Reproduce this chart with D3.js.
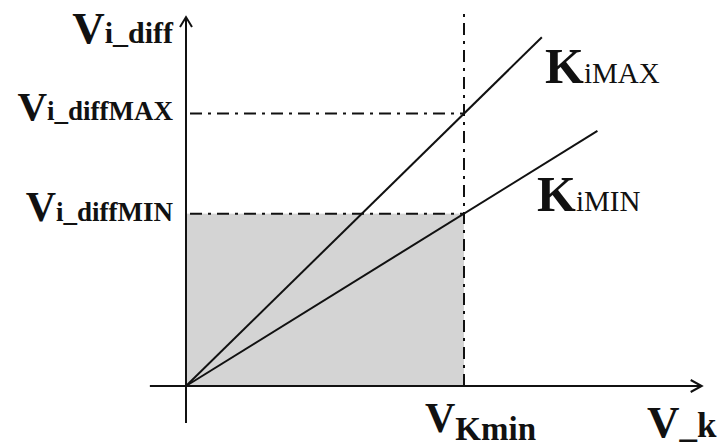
<!DOCTYPE html>
<html>
<head>
<meta charset="utf-8">
<script src="https://cdn.jsdelivr.net/npm/d3@7"></script>
<style>
  html, body { margin: 0; padding: 0; background: #fff; }
  text { font-family: "Liberation Serif", "DejaVu Serif", serif; font-weight: bold; fill: #111; }
</style>
</head>
<body>
<div id="chart"></div>
<script>
// data (arbitrary units, V_Kmin = 1)
const slopeNames = ["MAX", "MIN"];
const slopes = [0.98, 0.62];
const lineEnds = [1.28, 1.48];   // x value where each line stops
const vkMin = 1;
const xAxisRange = [-0.13, 1.855];
const yAxisRange = [-0.133, 1.327];
const vLineTop = 1.36;

const width = 719, height = 447;

const svg = d3.select("#chart")
  .append("svg")
  .attr("width", width)
  .attr("height", height);

// same pixel size per unit on both axes
const x = d3.scaleLinear().domain([0, 1]).range([186, 464]);
const y = d3.scaleLinear().domain([0, 1]).range([386, 108]);

const vMax = slopes[0] * vkMin;
const vMin = slopes[1] * vkMin;

// shaded region
svg.append("rect")
  .attr("x", x(0))
  .attr("y", y(vMin))
  .attr("width", x(vkMin) - x(0))
  .attr("height", y(0) - y(vMin))
  .attr("fill", "#d4d4d4");

// dash-dot guides
const dashStyle = "12,6,3,6";
svg.append("line")
  .attr("x1", x(vkMin)).attr("x2", x(vkMin))
  .attr("y1", y(0)).attr("y2", y(vLineTop))
  .attr("stroke", "#111").attr("stroke-width", 2)
  .attr("stroke-dasharray", dashStyle);

svg.selectAll(".hguide")
  .data([vMax, vMin])
  .enter()
  .append("line")
  .attr("class", "hguide")
  .attr("x1", x(0) + 4).attr("x2", x(vkMin))
  .attr("y1", d => y(d)).attr("y2", d => y(d))
  .attr("stroke", "#111").attr("stroke-width", 2)
  .attr("stroke-dasharray", dashStyle);

// the two K lines
svg.selectAll(".kline")
  .data(slopes)
  .enter()
  .append("line")
  .attr("class", "kline")
  .attr("x1", x(0)).attr("y1", y(0))
  .attr("x2", (d, i) => x(lineEnds[i]))
  .attr("y2", (d, i) => y(d * lineEnds[i]))
  .attr("stroke", "#111").attr("stroke-width", 2);

// axes
svg.append("line")
  .attr("x1", x(xAxisRange[0])).attr("x2", x(xAxisRange[1]))
  .attr("y1", y(0)).attr("y2", y(0))
  .attr("stroke", "#111").attr("stroke-width", 2);
svg.append("line")
  .attr("x1", x(0)).attr("x2", x(0))
  .attr("y1", y(yAxisRange[0])).attr("y2", y(yAxisRange[1]))
  .attr("stroke", "#111").attr("stroke-width", 2);

// arrow heads
const xt = x(xAxisRange[1]), yt = y(yAxisRange[1]);
svg.append("path")
  .attr("d", `M${xt - 11},${y(0) - 6}L${xt},${y(0)}L${xt - 11},${y(0) + 6}`)
  .attr("fill", "none").attr("stroke", "#111").attr("stroke-width", 2);
svg.append("path")
  .attr("d", `M${x(0) - 6},${yt + 10}L${x(0)},${yt}L${x(0) + 6},${yt + 10}`)
  .attr("fill", "none").attr("stroke", "#111").attr("stroke-width", 2);

// labels
function label(px, py, anchor, big, bigSize, small, smallSize, shift, smallWeight) {
  const t = svg.append("text")
    .attr("x", px).attr("y", py)
    .attr("text-anchor", anchor);
  t.append("tspan").attr("font-size", bigSize).text(big);
  t.append("tspan")
    .attr("font-size", smallSize)
    .attr("dy", shift || 0)
    .attr("font-weight", smallWeight || "bold")
    .text(small);
  return t;
}

label(173, 43, "end", "V", 45, "i_diff", 30);
label(173, y(vMax) + 6, "end", "V", 41, "i_diffMAX", 27);
label(173, y(vMin) + 7, "end", "V", 42, "i_diffMIN", 27);

label(545, 83, "start", "K", 50, "i" + slopeNames[0], 29, 0, "normal");
label(537, 211, "start", "K", 50, "i" + slopeNames[1], 29, 0, "normal");

label(425, 432, "start", "V", 42, "Kmin", 33, 8);
label(647, 437, "start", "V", 45, "_k", 35);
</script>
</body>
</html>
